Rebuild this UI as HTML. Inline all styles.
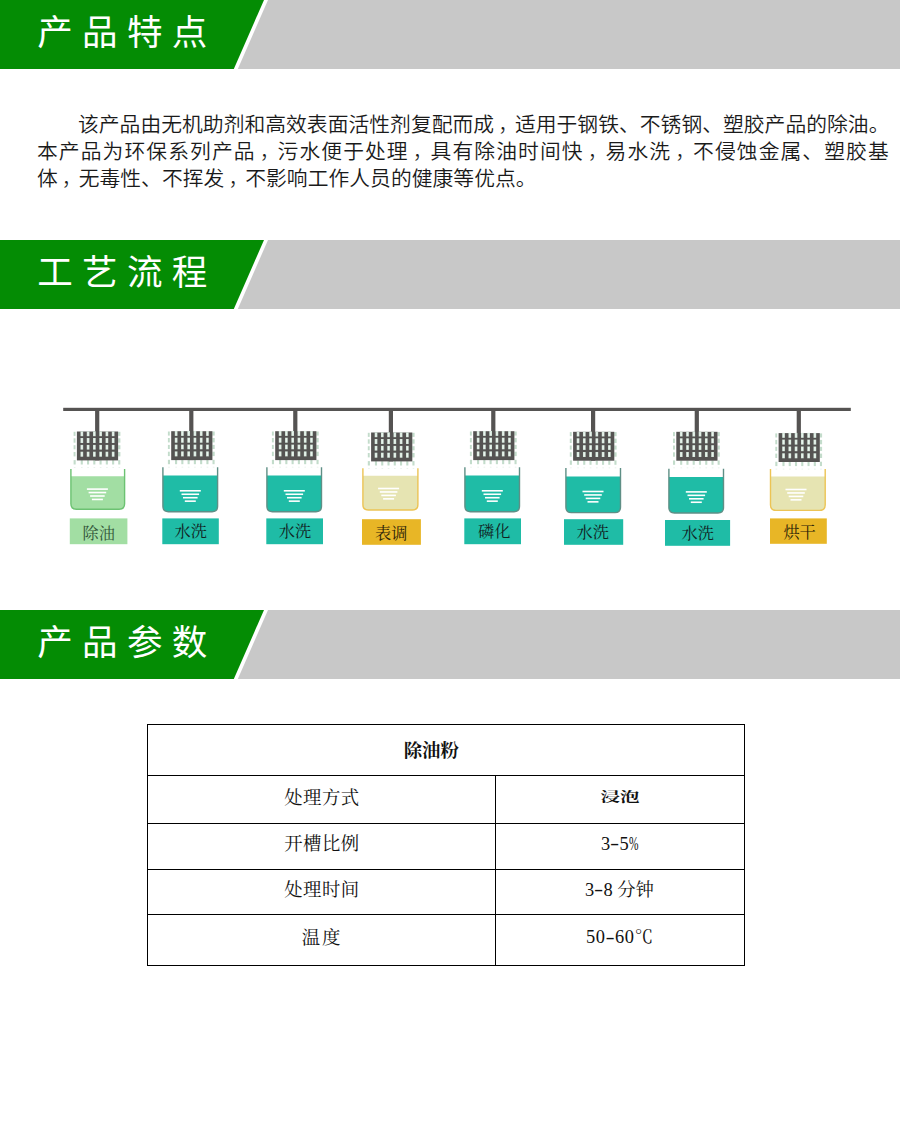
<!DOCTYPE html>
<html lang="zh-CN">
<head>
<meta charset="utf-8">
<title>除油粉 产品说明</title>
<style>
html,body{margin:0;padding:0;background:#fff;}
body{width:900px;height:1131px;position:relative;overflow:hidden;font-family:"Liberation Sans","Noto Sans CJK SC",sans-serif;}
.bar{position:absolute;left:0;width:900px;height:69px;}
.bar svg{position:absolute;left:0;top:0;display:block;}
.bar h2{position:absolute;left:37.3px;top:0;margin:0;height:69px;line-height:66px;font-size:35.5px;font-weight:400;letter-spacing:9.3px;color:#fff;white-space:nowrap;}
.p{position:absolute;left:37px;margin:0;font-weight:350;font-size:20.77px;line-height:28px;height:28px;color:#1a1a1a;white-space:nowrap;}
.p .c{position:relative;left:4px;font-weight:300;}
.flow{position:absolute;left:0;top:380px;display:block;font-family:"Liberation Serif","Noto Serif CJK SC",serif;}
.tbl{position:absolute;left:147px;top:724px;width:596px;height:240px;border:1px solid #000;}
.tbl i{position:absolute;background:#000;display:block;}
.tbl .h{left:0;width:596px;height:1px;}
.tbl .v{left:347px;top:50px;width:1px;height:190px;}
.cell{position:absolute;width:200px;height:24px;line-height:24px;text-align:center;font-family:"Liberation Serif","Noto Serif CJK SC",serif;font-size:18.4px;color:#111;white-space:nowrap;}
.cell .pc{display:inline-block;width:9.2px;transform:scaleX(0.62);transform-origin:0 50%;}
.cell .hy{display:inline-block;width:9.2px;text-align:center;transform:scaleX(1.5);position:relative;top:-0.5px;}
.cell .sq{display:inline-block;transform:scale(1.4,0.9);}
.cell.b{font-weight:700;}
</style>
</head>
<body>

<div class="bar" style="top:0">
<svg width="900" height="69" viewBox="0 0 900 69"><rect width="900" height="69" fill="#c8c8c8"/><polygon points="0,0 268,0 237.8,69 0,69" fill="#fff"/><polygon points="0,0 264,0 233.8,69 0,69" fill="#048c04"/></svg>
<h2>产品特点</h2>
</div>

<p class="p" style="top:111px;left:78px;letter-spacing:0.04px">该产品由无机助剂和高效表面活性剂复配而成<span class="c">，</span>适用于钢铁、不锈钢、塑胶产品的除油。</p>
<p class="p" style="top:138px;letter-spacing:1.1px">本产品为环保系列产品<span class="c">，</span>污水便于处理<span class="c">，</span>具有除油时间快<span class="c">，</span>易水洗<span class="c">，</span>不侵蚀金属、塑胶基</p>
<p class="p" style="top:164.5px;letter-spacing:0.05px">体<span class="c">，</span>无毒性、不挥发<span class="c">，</span>不影响工作人员的健康等优点。</p>

<div class="bar" style="top:240px">
<svg width="900" height="69" viewBox="0 0 900 69"><rect width="900" height="69" fill="#c8c8c8"/><polygon points="0,0 268,0 237.8,69 0,69" fill="#fff"/><polygon points="0,0 264,0 233.8,69 0,69" fill="#048c04"/></svg>
<h2>工艺流程</h2>
</div>

<svg class="flow" width="900" height="200" viewBox="0 380 900 200">
<rect x="63.2" y="407.8" width="787.6" height="3.2" fill="#555352" transform="scale(1)"/>
<g><rect x="73.6" y="431.8" width="1.9" height="4.1" fill="#c3dccb"/><rect x="118.1" y="431.8" width="2.3" height="4.1" fill="#c3dccb"/><rect x="73.6" y="438.3" width="1.9" height="4.4" fill="#c3dccb"/><rect x="118.1" y="438.3" width="2.3" height="4.4" fill="#c3dccb"/><rect x="73.6" y="445.2" width="1.9" height="4.1" fill="#c3dccb"/><rect x="118.1" y="445.2" width="2.3" height="4.1" fill="#c3dccb"/><rect x="73.6" y="452" width="1.9" height="4.4" fill="#c3dccb"/><rect x="118.1" y="452" width="2.3" height="4.4" fill="#c3dccb"/><rect x="73.6" y="460.1" width="2.1" height="4.4" fill="#c3dccb"/><rect x="73.9" y="467" width="1.6" height="1" fill="#c3dccb" opacity="0.35"/><rect x="80.73" y="460.1" width="2.1" height="4.4" fill="#c3dccb"/><rect x="81.03" y="467" width="1.6" height="1" fill="#c3dccb" opacity="0.35"/><rect x="87" y="460.1" width="2.1" height="4.4" fill="#c3dccb"/><rect x="87.3" y="467" width="1.6" height="1" fill="#c3dccb" opacity="0.35"/><rect x="93.27" y="460.1" width="2.1" height="4.4" fill="#c3dccb"/><rect x="93.57" y="467" width="1.6" height="1" fill="#c3dccb" opacity="0.35"/><rect x="99.53" y="460.1" width="2.1" height="4.4" fill="#c3dccb"/><rect x="99.83" y="467" width="1.6" height="1" fill="#c3dccb" opacity="0.35"/><rect x="105.8" y="460.1" width="2.1" height="4.4" fill="#c3dccb"/><rect x="106.1" y="467" width="1.6" height="1" fill="#c3dccb" opacity="0.35"/><rect x="112.07" y="460.1" width="2.1" height="4.4" fill="#c3dccb"/><rect x="112.37" y="467" width="1.6" height="1" fill="#c3dccb" opacity="0.35"/><rect x="118.2" y="460.1" width="2.1" height="4.4" fill="#c3dccb"/><rect x="118.5" y="467" width="1.6" height="1" fill="#c3dccb" opacity="0.35"/><rect x="95.1" y="409" width="4.2" height="51.4" fill="#555352"/><rect x="76.9" y="431.5" width="41.2" height="28.9" fill="#555352"/><rect x="80.5" y="431.3" width="2.67" height="4.9" fill="#d2e5d9"/><rect x="81.23" y="432" width="1.2" height="3.7" fill="#eaf4ee"/><rect x="80.5" y="438" width="2.67" height="5" fill="#d2e5d9"/><rect x="81.23" y="438.5" width="1.2" height="4" fill="#eaf4ee"/><rect x="80.5" y="444.9" width="2.67" height="4.7" fill="#d2e5d9"/><rect x="81.23" y="445.4" width="1.2" height="3.7" fill="#eaf4ee"/><rect x="80.5" y="451.7" width="2.67" height="5" fill="#d2e5d9"/><rect x="81.23" y="452.2" width="1.2" height="4" fill="#eaf4ee"/><rect x="86.77" y="431.3" width="2.67" height="4.9" fill="#d2e5d9"/><rect x="87.5" y="432" width="1.2" height="3.7" fill="#eaf4ee"/><rect x="86.77" y="438" width="2.67" height="5" fill="#d2e5d9"/><rect x="87.5" y="438.5" width="1.2" height="4" fill="#eaf4ee"/><rect x="86.77" y="444.9" width="2.67" height="4.7" fill="#d2e5d9"/><rect x="87.5" y="445.4" width="1.2" height="3.7" fill="#eaf4ee"/><rect x="86.77" y="451.7" width="2.67" height="5" fill="#d2e5d9"/><rect x="87.5" y="452.2" width="1.2" height="4" fill="#eaf4ee"/><rect x="93.03" y="431.3" width="2.67" height="4.9" fill="#d2e5d9"/><rect x="93.77" y="432" width="1.2" height="3.7" fill="#eaf4ee"/><rect x="93.03" y="438" width="2.67" height="5" fill="#d2e5d9"/><rect x="93.77" y="438.5" width="1.2" height="4" fill="#eaf4ee"/><rect x="93.03" y="444.9" width="2.67" height="4.7" fill="#d2e5d9"/><rect x="93.77" y="445.4" width="1.2" height="3.7" fill="#eaf4ee"/><rect x="93.03" y="451.7" width="2.67" height="5" fill="#d2e5d9"/><rect x="93.77" y="452.2" width="1.2" height="4" fill="#eaf4ee"/><rect x="99.3" y="431.3" width="2.67" height="4.9" fill="#d2e5d9"/><rect x="100.03" y="432" width="1.2" height="3.7" fill="#eaf4ee"/><rect x="99.3" y="438" width="2.67" height="5" fill="#d2e5d9"/><rect x="100.03" y="438.5" width="1.2" height="4" fill="#eaf4ee"/><rect x="99.3" y="444.9" width="2.67" height="4.7" fill="#d2e5d9"/><rect x="100.03" y="445.4" width="1.2" height="3.7" fill="#eaf4ee"/><rect x="99.3" y="451.7" width="2.67" height="5" fill="#d2e5d9"/><rect x="100.03" y="452.2" width="1.2" height="4" fill="#eaf4ee"/><rect x="105.57" y="431.3" width="2.67" height="4.9" fill="#d2e5d9"/><rect x="106.3" y="432" width="1.2" height="3.7" fill="#eaf4ee"/><rect x="105.57" y="438" width="2.67" height="5" fill="#d2e5d9"/><rect x="106.3" y="438.5" width="1.2" height="4" fill="#eaf4ee"/><rect x="105.57" y="444.9" width="2.67" height="4.7" fill="#d2e5d9"/><rect x="106.3" y="445.4" width="1.2" height="3.7" fill="#eaf4ee"/><rect x="105.57" y="451.7" width="2.67" height="5" fill="#d2e5d9"/><rect x="106.3" y="452.2" width="1.2" height="4" fill="#eaf4ee"/><rect x="111.83" y="431.3" width="2.67" height="4.9" fill="#d2e5d9"/><rect x="112.57" y="432" width="1.2" height="3.7" fill="#eaf4ee"/><rect x="111.83" y="438" width="2.67" height="5" fill="#d2e5d9"/><rect x="112.57" y="438.5" width="1.2" height="4" fill="#eaf4ee"/><rect x="111.83" y="444.9" width="2.67" height="4.7" fill="#d2e5d9"/><rect x="112.57" y="445.4" width="1.2" height="3.7" fill="#eaf4ee"/><rect x="111.83" y="451.7" width="2.67" height="5" fill="#d2e5d9"/><rect x="112.57" y="452.2" width="1.2" height="4" fill="#eaf4ee"/><path d="M70.9 476.2 H124.6 V503.8 Q124.6 509.3 119.1 509.3 H76.4 Q70.9 509.3 70.9 503.8 Z" fill="#a2dea3"/><path d="M70.9 468.9 V503.8 Q70.9 509.3 76.4 509.3 H119.1 Q124.6 509.3 124.6 503.8 V468.9" fill="none" stroke="#6cc272" stroke-width="1.4"/><rect x="86.9" y="488.3" width="21" height="1.6" fill="#fff"/><rect x="88.6" y="491.75" width="17.6" height="1.6" fill="#fff"/><rect x="90.1" y="495.2" width="14.6" height="1.6" fill="#fff"/><rect x="91.9" y="498.65" width="11" height="1.6" fill="#fff"/><rect x="69.8" y="518.4" width="57.6" height="25.8" fill="#a2dea3"/><text x="98.75" y="538.9" text-anchor="middle" font-size="16.2" fill="#34563a">除油</text></g>
<g><rect x="167.9" y="431.5" width="1.9" height="4.1" fill="#c3dccb"/><rect x="212.4" y="431.5" width="2.3" height="4.1" fill="#c3dccb"/><rect x="167.9" y="438" width="1.9" height="4.4" fill="#c3dccb"/><rect x="212.4" y="438" width="2.3" height="4.4" fill="#c3dccb"/><rect x="167.9" y="444.9" width="1.9" height="4.1" fill="#c3dccb"/><rect x="212.4" y="444.9" width="2.3" height="4.1" fill="#c3dccb"/><rect x="167.9" y="451.7" width="1.9" height="4.4" fill="#c3dccb"/><rect x="212.4" y="451.7" width="2.3" height="4.4" fill="#c3dccb"/><rect x="167.9" y="459.8" width="2.1" height="4.4" fill="#c3dccb"/><rect x="168.2" y="466.7" width="1.6" height="1" fill="#c3dccb" opacity="0.35"/><rect x="175.03" y="459.8" width="2.1" height="4.4" fill="#c3dccb"/><rect x="175.33" y="466.7" width="1.6" height="1" fill="#c3dccb" opacity="0.35"/><rect x="181.3" y="459.8" width="2.1" height="4.4" fill="#c3dccb"/><rect x="181.6" y="466.7" width="1.6" height="1" fill="#c3dccb" opacity="0.35"/><rect x="187.57" y="459.8" width="2.1" height="4.4" fill="#c3dccb"/><rect x="187.87" y="466.7" width="1.6" height="1" fill="#c3dccb" opacity="0.35"/><rect x="193.83" y="459.8" width="2.1" height="4.4" fill="#c3dccb"/><rect x="194.13" y="466.7" width="1.6" height="1" fill="#c3dccb" opacity="0.35"/><rect x="200.1" y="459.8" width="2.1" height="4.4" fill="#c3dccb"/><rect x="200.4" y="466.7" width="1.6" height="1" fill="#c3dccb" opacity="0.35"/><rect x="206.37" y="459.8" width="2.1" height="4.4" fill="#c3dccb"/><rect x="206.67" y="466.7" width="1.6" height="1" fill="#c3dccb" opacity="0.35"/><rect x="212.5" y="459.8" width="2.1" height="4.4" fill="#c3dccb"/><rect x="212.8" y="466.7" width="1.6" height="1" fill="#c3dccb" opacity="0.35"/><rect x="189.2" y="409" width="4.2" height="51.1" fill="#555352"/><rect x="171.2" y="431.2" width="41.2" height="28.9" fill="#555352"/><rect x="174.8" y="431" width="2.67" height="4.9" fill="#d2e5d9"/><rect x="175.53" y="431.7" width="1.2" height="3.7" fill="#eaf4ee"/><rect x="174.8" y="437.7" width="2.67" height="5" fill="#d2e5d9"/><rect x="175.53" y="438.2" width="1.2" height="4" fill="#eaf4ee"/><rect x="174.8" y="444.6" width="2.67" height="4.7" fill="#d2e5d9"/><rect x="175.53" y="445.1" width="1.2" height="3.7" fill="#eaf4ee"/><rect x="174.8" y="451.4" width="2.67" height="5" fill="#d2e5d9"/><rect x="175.53" y="451.9" width="1.2" height="4" fill="#eaf4ee"/><rect x="181.07" y="431" width="2.67" height="4.9" fill="#d2e5d9"/><rect x="181.8" y="431.7" width="1.2" height="3.7" fill="#eaf4ee"/><rect x="181.07" y="437.7" width="2.67" height="5" fill="#d2e5d9"/><rect x="181.8" y="438.2" width="1.2" height="4" fill="#eaf4ee"/><rect x="181.07" y="444.6" width="2.67" height="4.7" fill="#d2e5d9"/><rect x="181.8" y="445.1" width="1.2" height="3.7" fill="#eaf4ee"/><rect x="181.07" y="451.4" width="2.67" height="5" fill="#d2e5d9"/><rect x="181.8" y="451.9" width="1.2" height="4" fill="#eaf4ee"/><rect x="187.33" y="431" width="2.67" height="4.9" fill="#d2e5d9"/><rect x="188.07" y="431.7" width="1.2" height="3.7" fill="#eaf4ee"/><rect x="187.33" y="437.7" width="2.67" height="5" fill="#d2e5d9"/><rect x="188.07" y="438.2" width="1.2" height="4" fill="#eaf4ee"/><rect x="187.33" y="444.6" width="2.67" height="4.7" fill="#d2e5d9"/><rect x="188.07" y="445.1" width="1.2" height="3.7" fill="#eaf4ee"/><rect x="187.33" y="451.4" width="2.67" height="5" fill="#d2e5d9"/><rect x="188.07" y="451.9" width="1.2" height="4" fill="#eaf4ee"/><rect x="193.6" y="431" width="2.67" height="4.9" fill="#d2e5d9"/><rect x="194.33" y="431.7" width="1.2" height="3.7" fill="#eaf4ee"/><rect x="193.6" y="437.7" width="2.67" height="5" fill="#d2e5d9"/><rect x="194.33" y="438.2" width="1.2" height="4" fill="#eaf4ee"/><rect x="193.6" y="444.6" width="2.67" height="4.7" fill="#d2e5d9"/><rect x="194.33" y="445.1" width="1.2" height="3.7" fill="#eaf4ee"/><rect x="193.6" y="451.4" width="2.67" height="5" fill="#d2e5d9"/><rect x="194.33" y="451.9" width="1.2" height="4" fill="#eaf4ee"/><rect x="199.87" y="431" width="2.67" height="4.9" fill="#d2e5d9"/><rect x="200.6" y="431.7" width="1.2" height="3.7" fill="#eaf4ee"/><rect x="199.87" y="437.7" width="2.67" height="5" fill="#d2e5d9"/><rect x="200.6" y="438.2" width="1.2" height="4" fill="#eaf4ee"/><rect x="199.87" y="444.6" width="2.67" height="4.7" fill="#d2e5d9"/><rect x="200.6" y="445.1" width="1.2" height="3.7" fill="#eaf4ee"/><rect x="199.87" y="451.4" width="2.67" height="5" fill="#d2e5d9"/><rect x="200.6" y="451.9" width="1.2" height="4" fill="#eaf4ee"/><rect x="206.13" y="431" width="2.67" height="4.9" fill="#d2e5d9"/><rect x="206.87" y="431.7" width="1.2" height="3.7" fill="#eaf4ee"/><rect x="206.13" y="437.7" width="2.67" height="5" fill="#d2e5d9"/><rect x="206.87" y="438.2" width="1.2" height="4" fill="#eaf4ee"/><rect x="206.13" y="444.6" width="2.67" height="4.7" fill="#d2e5d9"/><rect x="206.87" y="445.1" width="1.2" height="3.7" fill="#eaf4ee"/><rect x="206.13" y="451.4" width="2.67" height="5" fill="#d2e5d9"/><rect x="206.87" y="451.9" width="1.2" height="4" fill="#eaf4ee"/><path d="M162.9 475.6 H217.6 V506.2 Q217.6 511.7 212.1 511.7 H168.4 Q162.9 511.7 162.9 506.2 Z" fill="#1fbca6"/><path d="M162.9 467.3 V506.2 Q162.9 511.7 168.4 511.7 H212.1 Q217.6 511.7 217.6 506.2 V467.3" fill="none" stroke="#5f8f86" stroke-width="1.4"/><rect x="179.8" y="490" width="21" height="1.6" fill="#fff"/><rect x="181.5" y="493.45" width="17.6" height="1.6" fill="#fff"/><rect x="183" y="496.9" width="14.6" height="1.6" fill="#fff"/><rect x="184.8" y="500.35" width="11" height="1.6" fill="#fff"/><rect x="162.3" y="518.4" width="56.5" height="25.8" fill="#1fbca6"/><text x="190.8" y="537.1" text-anchor="middle" font-size="16.2" fill="#11231f">水洗</text></g>
<g><rect x="271.9" y="431.5" width="1.9" height="4.1" fill="#c3dccb"/><rect x="316.4" y="431.5" width="2.3" height="4.1" fill="#c3dccb"/><rect x="271.9" y="438" width="1.9" height="4.4" fill="#c3dccb"/><rect x="316.4" y="438" width="2.3" height="4.4" fill="#c3dccb"/><rect x="271.9" y="444.9" width="1.9" height="4.1" fill="#c3dccb"/><rect x="316.4" y="444.9" width="2.3" height="4.1" fill="#c3dccb"/><rect x="271.9" y="451.7" width="1.9" height="4.4" fill="#c3dccb"/><rect x="316.4" y="451.7" width="2.3" height="4.4" fill="#c3dccb"/><rect x="271.9" y="459.8" width="2.1" height="4.4" fill="#c3dccb"/><rect x="272.2" y="466.7" width="1.6" height="1" fill="#c3dccb" opacity="0.35"/><rect x="279.03" y="459.8" width="2.1" height="4.4" fill="#c3dccb"/><rect x="279.33" y="466.7" width="1.6" height="1" fill="#c3dccb" opacity="0.35"/><rect x="285.3" y="459.8" width="2.1" height="4.4" fill="#c3dccb"/><rect x="285.6" y="466.7" width="1.6" height="1" fill="#c3dccb" opacity="0.35"/><rect x="291.57" y="459.8" width="2.1" height="4.4" fill="#c3dccb"/><rect x="291.87" y="466.7" width="1.6" height="1" fill="#c3dccb" opacity="0.35"/><rect x="297.83" y="459.8" width="2.1" height="4.4" fill="#c3dccb"/><rect x="298.13" y="466.7" width="1.6" height="1" fill="#c3dccb" opacity="0.35"/><rect x="304.1" y="459.8" width="2.1" height="4.4" fill="#c3dccb"/><rect x="304.4" y="466.7" width="1.6" height="1" fill="#c3dccb" opacity="0.35"/><rect x="310.37" y="459.8" width="2.1" height="4.4" fill="#c3dccb"/><rect x="310.67" y="466.7" width="1.6" height="1" fill="#c3dccb" opacity="0.35"/><rect x="316.5" y="459.8" width="2.1" height="4.4" fill="#c3dccb"/><rect x="316.8" y="466.7" width="1.6" height="1" fill="#c3dccb" opacity="0.35"/><rect x="293.2" y="409" width="4.2" height="51.1" fill="#555352"/><rect x="275.2" y="431.2" width="41.2" height="28.9" fill="#555352"/><rect x="278.8" y="431" width="2.67" height="4.9" fill="#d2e5d9"/><rect x="279.53" y="431.7" width="1.2" height="3.7" fill="#eaf4ee"/><rect x="278.8" y="437.7" width="2.67" height="5" fill="#d2e5d9"/><rect x="279.53" y="438.2" width="1.2" height="4" fill="#eaf4ee"/><rect x="278.8" y="444.6" width="2.67" height="4.7" fill="#d2e5d9"/><rect x="279.53" y="445.1" width="1.2" height="3.7" fill="#eaf4ee"/><rect x="278.8" y="451.4" width="2.67" height="5" fill="#d2e5d9"/><rect x="279.53" y="451.9" width="1.2" height="4" fill="#eaf4ee"/><rect x="285.07" y="431" width="2.67" height="4.9" fill="#d2e5d9"/><rect x="285.8" y="431.7" width="1.2" height="3.7" fill="#eaf4ee"/><rect x="285.07" y="437.7" width="2.67" height="5" fill="#d2e5d9"/><rect x="285.8" y="438.2" width="1.2" height="4" fill="#eaf4ee"/><rect x="285.07" y="444.6" width="2.67" height="4.7" fill="#d2e5d9"/><rect x="285.8" y="445.1" width="1.2" height="3.7" fill="#eaf4ee"/><rect x="285.07" y="451.4" width="2.67" height="5" fill="#d2e5d9"/><rect x="285.8" y="451.9" width="1.2" height="4" fill="#eaf4ee"/><rect x="291.33" y="431" width="2.67" height="4.9" fill="#d2e5d9"/><rect x="292.07" y="431.7" width="1.2" height="3.7" fill="#eaf4ee"/><rect x="291.33" y="437.7" width="2.67" height="5" fill="#d2e5d9"/><rect x="292.07" y="438.2" width="1.2" height="4" fill="#eaf4ee"/><rect x="291.33" y="444.6" width="2.67" height="4.7" fill="#d2e5d9"/><rect x="292.07" y="445.1" width="1.2" height="3.7" fill="#eaf4ee"/><rect x="291.33" y="451.4" width="2.67" height="5" fill="#d2e5d9"/><rect x="292.07" y="451.9" width="1.2" height="4" fill="#eaf4ee"/><rect x="297.6" y="431" width="2.67" height="4.9" fill="#d2e5d9"/><rect x="298.33" y="431.7" width="1.2" height="3.7" fill="#eaf4ee"/><rect x="297.6" y="437.7" width="2.67" height="5" fill="#d2e5d9"/><rect x="298.33" y="438.2" width="1.2" height="4" fill="#eaf4ee"/><rect x="297.6" y="444.6" width="2.67" height="4.7" fill="#d2e5d9"/><rect x="298.33" y="445.1" width="1.2" height="3.7" fill="#eaf4ee"/><rect x="297.6" y="451.4" width="2.67" height="5" fill="#d2e5d9"/><rect x="298.33" y="451.9" width="1.2" height="4" fill="#eaf4ee"/><rect x="303.87" y="431" width="2.67" height="4.9" fill="#d2e5d9"/><rect x="304.6" y="431.7" width="1.2" height="3.7" fill="#eaf4ee"/><rect x="303.87" y="437.7" width="2.67" height="5" fill="#d2e5d9"/><rect x="304.6" y="438.2" width="1.2" height="4" fill="#eaf4ee"/><rect x="303.87" y="444.6" width="2.67" height="4.7" fill="#d2e5d9"/><rect x="304.6" y="445.1" width="1.2" height="3.7" fill="#eaf4ee"/><rect x="303.87" y="451.4" width="2.67" height="5" fill="#d2e5d9"/><rect x="304.6" y="451.9" width="1.2" height="4" fill="#eaf4ee"/><rect x="310.13" y="431" width="2.67" height="4.9" fill="#d2e5d9"/><rect x="310.87" y="431.7" width="1.2" height="3.7" fill="#eaf4ee"/><rect x="310.13" y="437.7" width="2.67" height="5" fill="#d2e5d9"/><rect x="310.87" y="438.2" width="1.2" height="4" fill="#eaf4ee"/><rect x="310.13" y="444.6" width="2.67" height="4.7" fill="#d2e5d9"/><rect x="310.87" y="445.1" width="1.2" height="3.7" fill="#eaf4ee"/><rect x="310.13" y="451.4" width="2.67" height="5" fill="#d2e5d9"/><rect x="310.87" y="451.9" width="1.2" height="4" fill="#eaf4ee"/><path d="M266.9 475.6 H321.5 V506.2 Q321.5 511.7 316 511.7 H272.4 Q266.9 511.7 266.9 506.2 Z" fill="#1fbca6"/><path d="M266.9 467.3 V506.2 Q266.9 511.7 272.4 511.7 H316 Q321.5 511.7 321.5 506.2 V467.3" fill="none" stroke="#5f8f86" stroke-width="1.4"/><rect x="283.8" y="490" width="21" height="1.6" fill="#fff"/><rect x="285.5" y="493.45" width="17.6" height="1.6" fill="#fff"/><rect x="287" y="496.9" width="14.6" height="1.6" fill="#fff"/><rect x="288.8" y="500.35" width="11" height="1.6" fill="#fff"/><rect x="266.3" y="518.4" width="56.7" height="25.8" fill="#1fbca6"/><text x="294.9" y="537.1" text-anchor="middle" font-size="16.2" fill="#11231f">水洗</text></g>
<g><rect x="367.8" y="432.8" width="1.9" height="4.1" fill="#c3dccb"/><rect x="412.3" y="432.8" width="2.3" height="4.1" fill="#c3dccb"/><rect x="367.8" y="439.3" width="1.9" height="4.4" fill="#c3dccb"/><rect x="412.3" y="439.3" width="2.3" height="4.4" fill="#c3dccb"/><rect x="367.8" y="446.2" width="1.9" height="4.1" fill="#c3dccb"/><rect x="412.3" y="446.2" width="2.3" height="4.1" fill="#c3dccb"/><rect x="367.8" y="453" width="1.9" height="4.4" fill="#c3dccb"/><rect x="412.3" y="453" width="2.3" height="4.4" fill="#c3dccb"/><rect x="367.8" y="461.1" width="2.1" height="4.4" fill="#c3dccb"/><rect x="368.1" y="468" width="1.6" height="1" fill="#c3dccb" opacity="0.35"/><rect x="374.93" y="461.1" width="2.1" height="4.4" fill="#c3dccb"/><rect x="375.23" y="468" width="1.6" height="1" fill="#c3dccb" opacity="0.35"/><rect x="381.2" y="461.1" width="2.1" height="4.4" fill="#c3dccb"/><rect x="381.5" y="468" width="1.6" height="1" fill="#c3dccb" opacity="0.35"/><rect x="387.47" y="461.1" width="2.1" height="4.4" fill="#c3dccb"/><rect x="387.77" y="468" width="1.6" height="1" fill="#c3dccb" opacity="0.35"/><rect x="393.73" y="461.1" width="2.1" height="4.4" fill="#c3dccb"/><rect x="394.03" y="468" width="1.6" height="1" fill="#c3dccb" opacity="0.35"/><rect x="400" y="461.1" width="2.1" height="4.4" fill="#c3dccb"/><rect x="400.3" y="468" width="1.6" height="1" fill="#c3dccb" opacity="0.35"/><rect x="406.27" y="461.1" width="2.1" height="4.4" fill="#c3dccb"/><rect x="406.57" y="468" width="1.6" height="1" fill="#c3dccb" opacity="0.35"/><rect x="412.4" y="461.1" width="2.1" height="4.4" fill="#c3dccb"/><rect x="412.7" y="468" width="1.6" height="1" fill="#c3dccb" opacity="0.35"/><rect x="388.8" y="409" width="4.2" height="52.4" fill="#555352"/><rect x="371.1" y="432.5" width="41.2" height="28.9" fill="#555352"/><rect x="374.7" y="432.3" width="2.67" height="4.9" fill="#d2e5d9"/><rect x="375.43" y="433" width="1.2" height="3.7" fill="#eaf4ee"/><rect x="374.7" y="439" width="2.67" height="5" fill="#d2e5d9"/><rect x="375.43" y="439.5" width="1.2" height="4" fill="#eaf4ee"/><rect x="374.7" y="445.9" width="2.67" height="4.7" fill="#d2e5d9"/><rect x="375.43" y="446.4" width="1.2" height="3.7" fill="#eaf4ee"/><rect x="374.7" y="452.7" width="2.67" height="5" fill="#d2e5d9"/><rect x="375.43" y="453.2" width="1.2" height="4" fill="#eaf4ee"/><rect x="380.97" y="432.3" width="2.67" height="4.9" fill="#d2e5d9"/><rect x="381.7" y="433" width="1.2" height="3.7" fill="#eaf4ee"/><rect x="380.97" y="439" width="2.67" height="5" fill="#d2e5d9"/><rect x="381.7" y="439.5" width="1.2" height="4" fill="#eaf4ee"/><rect x="380.97" y="445.9" width="2.67" height="4.7" fill="#d2e5d9"/><rect x="381.7" y="446.4" width="1.2" height="3.7" fill="#eaf4ee"/><rect x="380.97" y="452.7" width="2.67" height="5" fill="#d2e5d9"/><rect x="381.7" y="453.2" width="1.2" height="4" fill="#eaf4ee"/><rect x="387.23" y="432.3" width="2.67" height="4.9" fill="#d2e5d9"/><rect x="387.97" y="433" width="1.2" height="3.7" fill="#eaf4ee"/><rect x="387.23" y="439" width="2.67" height="5" fill="#d2e5d9"/><rect x="387.97" y="439.5" width="1.2" height="4" fill="#eaf4ee"/><rect x="387.23" y="445.9" width="2.67" height="4.7" fill="#d2e5d9"/><rect x="387.97" y="446.4" width="1.2" height="3.7" fill="#eaf4ee"/><rect x="387.23" y="452.7" width="2.67" height="5" fill="#d2e5d9"/><rect x="387.97" y="453.2" width="1.2" height="4" fill="#eaf4ee"/><rect x="393.5" y="432.3" width="2.67" height="4.9" fill="#d2e5d9"/><rect x="394.23" y="433" width="1.2" height="3.7" fill="#eaf4ee"/><rect x="393.5" y="439" width="2.67" height="5" fill="#d2e5d9"/><rect x="394.23" y="439.5" width="1.2" height="4" fill="#eaf4ee"/><rect x="393.5" y="445.9" width="2.67" height="4.7" fill="#d2e5d9"/><rect x="394.23" y="446.4" width="1.2" height="3.7" fill="#eaf4ee"/><rect x="393.5" y="452.7" width="2.67" height="5" fill="#d2e5d9"/><rect x="394.23" y="453.2" width="1.2" height="4" fill="#eaf4ee"/><rect x="399.77" y="432.3" width="2.67" height="4.9" fill="#d2e5d9"/><rect x="400.5" y="433" width="1.2" height="3.7" fill="#eaf4ee"/><rect x="399.77" y="439" width="2.67" height="5" fill="#d2e5d9"/><rect x="400.5" y="439.5" width="1.2" height="4" fill="#eaf4ee"/><rect x="399.77" y="445.9" width="2.67" height="4.7" fill="#d2e5d9"/><rect x="400.5" y="446.4" width="1.2" height="3.7" fill="#eaf4ee"/><rect x="399.77" y="452.7" width="2.67" height="5" fill="#d2e5d9"/><rect x="400.5" y="453.2" width="1.2" height="4" fill="#eaf4ee"/><rect x="406.03" y="432.3" width="2.67" height="4.9" fill="#d2e5d9"/><rect x="406.77" y="433" width="1.2" height="3.7" fill="#eaf4ee"/><rect x="406.03" y="439" width="2.67" height="5" fill="#d2e5d9"/><rect x="406.77" y="439.5" width="1.2" height="4" fill="#eaf4ee"/><rect x="406.03" y="445.9" width="2.67" height="4.7" fill="#d2e5d9"/><rect x="406.77" y="446.4" width="1.2" height="3.7" fill="#eaf4ee"/><rect x="406.03" y="452.7" width="2.67" height="5" fill="#d2e5d9"/><rect x="406.77" y="453.2" width="1.2" height="4" fill="#eaf4ee"/><path d="M362.9 475.8 H417.9 V504.5 Q417.9 510 412.4 510 H368.4 Q362.9 510 362.9 504.5 Z" fill="#e6e4b2"/><path d="M362.9 468.3 V504.5 Q362.9 510 368.4 510 H412.4 Q417.9 510 417.9 504.5 V468.3" fill="none" stroke="#ecc455" stroke-width="1.4"/><rect x="378.1" y="487.7" width="21" height="1.6" fill="#fff"/><rect x="379.8" y="491.15" width="17.6" height="1.6" fill="#fff"/><rect x="381.3" y="494.6" width="14.6" height="1.6" fill="#fff"/><rect x="383.1" y="498.05" width="11" height="1.6" fill="#fff"/><rect x="362" y="519.2" width="58.9" height="25.6" fill="#e8b626"/><text x="391.2" y="538.9" text-anchor="middle" font-size="16.2" fill="#2e2408">表调</text></g>
<g><rect x="469.9" y="431.5" width="1.9" height="4.1" fill="#c3dccb"/><rect x="514.4" y="431.5" width="2.3" height="4.1" fill="#c3dccb"/><rect x="469.9" y="438" width="1.9" height="4.4" fill="#c3dccb"/><rect x="514.4" y="438" width="2.3" height="4.4" fill="#c3dccb"/><rect x="469.9" y="444.9" width="1.9" height="4.1" fill="#c3dccb"/><rect x="514.4" y="444.9" width="2.3" height="4.1" fill="#c3dccb"/><rect x="469.9" y="451.7" width="1.9" height="4.4" fill="#c3dccb"/><rect x="514.4" y="451.7" width="2.3" height="4.4" fill="#c3dccb"/><rect x="469.9" y="459.8" width="2.1" height="4.4" fill="#c3dccb"/><rect x="470.2" y="466.7" width="1.6" height="1" fill="#c3dccb" opacity="0.35"/><rect x="477.03" y="459.8" width="2.1" height="4.4" fill="#c3dccb"/><rect x="477.33" y="466.7" width="1.6" height="1" fill="#c3dccb" opacity="0.35"/><rect x="483.3" y="459.8" width="2.1" height="4.4" fill="#c3dccb"/><rect x="483.6" y="466.7" width="1.6" height="1" fill="#c3dccb" opacity="0.35"/><rect x="489.57" y="459.8" width="2.1" height="4.4" fill="#c3dccb"/><rect x="489.87" y="466.7" width="1.6" height="1" fill="#c3dccb" opacity="0.35"/><rect x="495.83" y="459.8" width="2.1" height="4.4" fill="#c3dccb"/><rect x="496.13" y="466.7" width="1.6" height="1" fill="#c3dccb" opacity="0.35"/><rect x="502.1" y="459.8" width="2.1" height="4.4" fill="#c3dccb"/><rect x="502.4" y="466.7" width="1.6" height="1" fill="#c3dccb" opacity="0.35"/><rect x="508.37" y="459.8" width="2.1" height="4.4" fill="#c3dccb"/><rect x="508.67" y="466.7" width="1.6" height="1" fill="#c3dccb" opacity="0.35"/><rect x="514.5" y="459.8" width="2.1" height="4.4" fill="#c3dccb"/><rect x="514.8" y="466.7" width="1.6" height="1" fill="#c3dccb" opacity="0.35"/><rect x="491.2" y="409" width="4.2" height="51.1" fill="#555352"/><rect x="473.2" y="431.2" width="41.2" height="28.9" fill="#555352"/><rect x="476.8" y="431" width="2.67" height="4.9" fill="#d2e5d9"/><rect x="477.53" y="431.7" width="1.2" height="3.7" fill="#eaf4ee"/><rect x="476.8" y="437.7" width="2.67" height="5" fill="#d2e5d9"/><rect x="477.53" y="438.2" width="1.2" height="4" fill="#eaf4ee"/><rect x="476.8" y="444.6" width="2.67" height="4.7" fill="#d2e5d9"/><rect x="477.53" y="445.1" width="1.2" height="3.7" fill="#eaf4ee"/><rect x="476.8" y="451.4" width="2.67" height="5" fill="#d2e5d9"/><rect x="477.53" y="451.9" width="1.2" height="4" fill="#eaf4ee"/><rect x="483.07" y="431" width="2.67" height="4.9" fill="#d2e5d9"/><rect x="483.8" y="431.7" width="1.2" height="3.7" fill="#eaf4ee"/><rect x="483.07" y="437.7" width="2.67" height="5" fill="#d2e5d9"/><rect x="483.8" y="438.2" width="1.2" height="4" fill="#eaf4ee"/><rect x="483.07" y="444.6" width="2.67" height="4.7" fill="#d2e5d9"/><rect x="483.8" y="445.1" width="1.2" height="3.7" fill="#eaf4ee"/><rect x="483.07" y="451.4" width="2.67" height="5" fill="#d2e5d9"/><rect x="483.8" y="451.9" width="1.2" height="4" fill="#eaf4ee"/><rect x="489.33" y="431" width="2.67" height="4.9" fill="#d2e5d9"/><rect x="490.07" y="431.7" width="1.2" height="3.7" fill="#eaf4ee"/><rect x="489.33" y="437.7" width="2.67" height="5" fill="#d2e5d9"/><rect x="490.07" y="438.2" width="1.2" height="4" fill="#eaf4ee"/><rect x="489.33" y="444.6" width="2.67" height="4.7" fill="#d2e5d9"/><rect x="490.07" y="445.1" width="1.2" height="3.7" fill="#eaf4ee"/><rect x="489.33" y="451.4" width="2.67" height="5" fill="#d2e5d9"/><rect x="490.07" y="451.9" width="1.2" height="4" fill="#eaf4ee"/><rect x="495.6" y="431" width="2.67" height="4.9" fill="#d2e5d9"/><rect x="496.33" y="431.7" width="1.2" height="3.7" fill="#eaf4ee"/><rect x="495.6" y="437.7" width="2.67" height="5" fill="#d2e5d9"/><rect x="496.33" y="438.2" width="1.2" height="4" fill="#eaf4ee"/><rect x="495.6" y="444.6" width="2.67" height="4.7" fill="#d2e5d9"/><rect x="496.33" y="445.1" width="1.2" height="3.7" fill="#eaf4ee"/><rect x="495.6" y="451.4" width="2.67" height="5" fill="#d2e5d9"/><rect x="496.33" y="451.9" width="1.2" height="4" fill="#eaf4ee"/><rect x="501.87" y="431" width="2.67" height="4.9" fill="#d2e5d9"/><rect x="502.6" y="431.7" width="1.2" height="3.7" fill="#eaf4ee"/><rect x="501.87" y="437.7" width="2.67" height="5" fill="#d2e5d9"/><rect x="502.6" y="438.2" width="1.2" height="4" fill="#eaf4ee"/><rect x="501.87" y="444.6" width="2.67" height="4.7" fill="#d2e5d9"/><rect x="502.6" y="445.1" width="1.2" height="3.7" fill="#eaf4ee"/><rect x="501.87" y="451.4" width="2.67" height="5" fill="#d2e5d9"/><rect x="502.6" y="451.9" width="1.2" height="4" fill="#eaf4ee"/><rect x="508.13" y="431" width="2.67" height="4.9" fill="#d2e5d9"/><rect x="508.87" y="431.7" width="1.2" height="3.7" fill="#eaf4ee"/><rect x="508.13" y="437.7" width="2.67" height="5" fill="#d2e5d9"/><rect x="508.87" y="438.2" width="1.2" height="4" fill="#eaf4ee"/><rect x="508.13" y="444.6" width="2.67" height="4.7" fill="#d2e5d9"/><rect x="508.87" y="445.1" width="1.2" height="3.7" fill="#eaf4ee"/><rect x="508.13" y="451.4" width="2.67" height="5" fill="#d2e5d9"/><rect x="508.87" y="451.9" width="1.2" height="4" fill="#eaf4ee"/><path d="M464.9 475.6 H519.5 V506.2 Q519.5 511.7 514 511.7 H470.4 Q464.9 511.7 464.9 506.2 Z" fill="#1fbca6"/><path d="M464.9 467.3 V506.2 Q464.9 511.7 470.4 511.7 H514 Q519.5 511.7 519.5 506.2 V467.3" fill="none" stroke="#5f8f86" stroke-width="1.4"/><rect x="481.8" y="490" width="21" height="1.6" fill="#fff"/><rect x="483.5" y="493.45" width="17.6" height="1.6" fill="#fff"/><rect x="485" y="496.9" width="14.6" height="1.6" fill="#fff"/><rect x="486.8" y="500.35" width="11" height="1.6" fill="#fff"/><rect x="464.3" y="518.4" width="56.7" height="25.8" fill="#1fbca6"/><text x="494.3" y="537.1" text-anchor="middle" font-size="16.2" fill="#11231f">磷化</text></g>
<g><rect x="569.8" y="432.1" width="1.9" height="4.1" fill="#c3dccb"/><rect x="614.3" y="432.1" width="2.3" height="4.1" fill="#c3dccb"/><rect x="569.8" y="438.6" width="1.9" height="4.4" fill="#c3dccb"/><rect x="614.3" y="438.6" width="2.3" height="4.4" fill="#c3dccb"/><rect x="569.8" y="445.5" width="1.9" height="4.1" fill="#c3dccb"/><rect x="614.3" y="445.5" width="2.3" height="4.1" fill="#c3dccb"/><rect x="569.8" y="452.3" width="1.9" height="4.4" fill="#c3dccb"/><rect x="614.3" y="452.3" width="2.3" height="4.4" fill="#c3dccb"/><rect x="569.8" y="460.4" width="2.1" height="4.4" fill="#c3dccb"/><rect x="570.1" y="467.3" width="1.6" height="1" fill="#c3dccb" opacity="0.35"/><rect x="576.93" y="460.4" width="2.1" height="4.4" fill="#c3dccb"/><rect x="577.23" y="467.3" width="1.6" height="1" fill="#c3dccb" opacity="0.35"/><rect x="583.2" y="460.4" width="2.1" height="4.4" fill="#c3dccb"/><rect x="583.5" y="467.3" width="1.6" height="1" fill="#c3dccb" opacity="0.35"/><rect x="589.47" y="460.4" width="2.1" height="4.4" fill="#c3dccb"/><rect x="589.77" y="467.3" width="1.6" height="1" fill="#c3dccb" opacity="0.35"/><rect x="595.73" y="460.4" width="2.1" height="4.4" fill="#c3dccb"/><rect x="596.03" y="467.3" width="1.6" height="1" fill="#c3dccb" opacity="0.35"/><rect x="602" y="460.4" width="2.1" height="4.4" fill="#c3dccb"/><rect x="602.3" y="467.3" width="1.6" height="1" fill="#c3dccb" opacity="0.35"/><rect x="608.27" y="460.4" width="2.1" height="4.4" fill="#c3dccb"/><rect x="608.57" y="467.3" width="1.6" height="1" fill="#c3dccb" opacity="0.35"/><rect x="614.4" y="460.4" width="2.1" height="4.4" fill="#c3dccb"/><rect x="614.7" y="467.3" width="1.6" height="1" fill="#c3dccb" opacity="0.35"/><rect x="591" y="409" width="4.2" height="51.7" fill="#555352"/><rect x="573.1" y="431.8" width="41.2" height="28.9" fill="#555352"/><rect x="576.7" y="431.6" width="2.67" height="4.9" fill="#d2e5d9"/><rect x="577.43" y="432.3" width="1.2" height="3.7" fill="#eaf4ee"/><rect x="576.7" y="438.3" width="2.67" height="5" fill="#d2e5d9"/><rect x="577.43" y="438.8" width="1.2" height="4" fill="#eaf4ee"/><rect x="576.7" y="445.2" width="2.67" height="4.7" fill="#d2e5d9"/><rect x="577.43" y="445.7" width="1.2" height="3.7" fill="#eaf4ee"/><rect x="576.7" y="452" width="2.67" height="5" fill="#d2e5d9"/><rect x="577.43" y="452.5" width="1.2" height="4" fill="#eaf4ee"/><rect x="582.97" y="431.6" width="2.67" height="4.9" fill="#d2e5d9"/><rect x="583.7" y="432.3" width="1.2" height="3.7" fill="#eaf4ee"/><rect x="582.97" y="438.3" width="2.67" height="5" fill="#d2e5d9"/><rect x="583.7" y="438.8" width="1.2" height="4" fill="#eaf4ee"/><rect x="582.97" y="445.2" width="2.67" height="4.7" fill="#d2e5d9"/><rect x="583.7" y="445.7" width="1.2" height="3.7" fill="#eaf4ee"/><rect x="582.97" y="452" width="2.67" height="5" fill="#d2e5d9"/><rect x="583.7" y="452.5" width="1.2" height="4" fill="#eaf4ee"/><rect x="589.23" y="431.6" width="2.67" height="4.9" fill="#d2e5d9"/><rect x="589.97" y="432.3" width="1.2" height="3.7" fill="#eaf4ee"/><rect x="589.23" y="438.3" width="2.67" height="5" fill="#d2e5d9"/><rect x="589.97" y="438.8" width="1.2" height="4" fill="#eaf4ee"/><rect x="589.23" y="445.2" width="2.67" height="4.7" fill="#d2e5d9"/><rect x="589.97" y="445.7" width="1.2" height="3.7" fill="#eaf4ee"/><rect x="589.23" y="452" width="2.67" height="5" fill="#d2e5d9"/><rect x="589.97" y="452.5" width="1.2" height="4" fill="#eaf4ee"/><rect x="595.5" y="431.6" width="2.67" height="4.9" fill="#d2e5d9"/><rect x="596.23" y="432.3" width="1.2" height="3.7" fill="#eaf4ee"/><rect x="595.5" y="438.3" width="2.67" height="5" fill="#d2e5d9"/><rect x="596.23" y="438.8" width="1.2" height="4" fill="#eaf4ee"/><rect x="595.5" y="445.2" width="2.67" height="4.7" fill="#d2e5d9"/><rect x="596.23" y="445.7" width="1.2" height="3.7" fill="#eaf4ee"/><rect x="595.5" y="452" width="2.67" height="5" fill="#d2e5d9"/><rect x="596.23" y="452.5" width="1.2" height="4" fill="#eaf4ee"/><rect x="601.77" y="431.6" width="2.67" height="4.9" fill="#d2e5d9"/><rect x="602.5" y="432.3" width="1.2" height="3.7" fill="#eaf4ee"/><rect x="601.77" y="438.3" width="2.67" height="5" fill="#d2e5d9"/><rect x="602.5" y="438.8" width="1.2" height="4" fill="#eaf4ee"/><rect x="601.77" y="445.2" width="2.67" height="4.7" fill="#d2e5d9"/><rect x="602.5" y="445.7" width="1.2" height="3.7" fill="#eaf4ee"/><rect x="601.77" y="452" width="2.67" height="5" fill="#d2e5d9"/><rect x="602.5" y="452.5" width="1.2" height="4" fill="#eaf4ee"/><rect x="608.03" y="431.6" width="2.67" height="4.9" fill="#d2e5d9"/><rect x="608.77" y="432.3" width="1.2" height="3.7" fill="#eaf4ee"/><rect x="608.03" y="438.3" width="2.67" height="5" fill="#d2e5d9"/><rect x="608.77" y="438.8" width="1.2" height="4" fill="#eaf4ee"/><rect x="608.03" y="445.2" width="2.67" height="4.7" fill="#d2e5d9"/><rect x="608.77" y="445.7" width="1.2" height="3.7" fill="#eaf4ee"/><rect x="608.03" y="452" width="2.67" height="5" fill="#d2e5d9"/><rect x="608.77" y="452.5" width="1.2" height="4" fill="#eaf4ee"/><path d="M565.9 476.5 H620.5 V507.1 Q620.5 512.6 615 512.6 H571.4 Q565.9 512.6 565.9 507.1 Z" fill="#1fbca6"/><path d="M565.9 468 V507.1 Q565.9 512.6 571.4 512.6 H615 Q620.5 512.6 620.5 507.1 V468" fill="none" stroke="#5f8f86" stroke-width="1.4"/><rect x="582.5" y="490.7" width="21" height="1.6" fill="#fff"/><rect x="584.2" y="494.15" width="17.6" height="1.6" fill="#fff"/><rect x="585.7" y="497.6" width="14.6" height="1.6" fill="#fff"/><rect x="587.5" y="501.05" width="11" height="1.6" fill="#fff"/><rect x="564" y="519.2" width="59.2" height="25.6" fill="#1fbca6"/><text x="592.8" y="538" text-anchor="middle" font-size="16.2" fill="#11231f">水洗</text></g>
<g><rect x="673" y="432.1" width="1.9" height="4.1" fill="#c3dccb"/><rect x="717.5" y="432.1" width="2.3" height="4.1" fill="#c3dccb"/><rect x="673" y="438.6" width="1.9" height="4.4" fill="#c3dccb"/><rect x="717.5" y="438.6" width="2.3" height="4.4" fill="#c3dccb"/><rect x="673" y="445.5" width="1.9" height="4.1" fill="#c3dccb"/><rect x="717.5" y="445.5" width="2.3" height="4.1" fill="#c3dccb"/><rect x="673" y="452.3" width="1.9" height="4.4" fill="#c3dccb"/><rect x="717.5" y="452.3" width="2.3" height="4.4" fill="#c3dccb"/><rect x="673" y="460.4" width="2.1" height="4.4" fill="#c3dccb"/><rect x="673.3" y="467.3" width="1.6" height="1" fill="#c3dccb" opacity="0.35"/><rect x="680.13" y="460.4" width="2.1" height="4.4" fill="#c3dccb"/><rect x="680.43" y="467.3" width="1.6" height="1" fill="#c3dccb" opacity="0.35"/><rect x="686.4" y="460.4" width="2.1" height="4.4" fill="#c3dccb"/><rect x="686.7" y="467.3" width="1.6" height="1" fill="#c3dccb" opacity="0.35"/><rect x="692.67" y="460.4" width="2.1" height="4.4" fill="#c3dccb"/><rect x="692.97" y="467.3" width="1.6" height="1" fill="#c3dccb" opacity="0.35"/><rect x="698.93" y="460.4" width="2.1" height="4.4" fill="#c3dccb"/><rect x="699.23" y="467.3" width="1.6" height="1" fill="#c3dccb" opacity="0.35"/><rect x="705.2" y="460.4" width="2.1" height="4.4" fill="#c3dccb"/><rect x="705.5" y="467.3" width="1.6" height="1" fill="#c3dccb" opacity="0.35"/><rect x="711.47" y="460.4" width="2.1" height="4.4" fill="#c3dccb"/><rect x="711.77" y="467.3" width="1.6" height="1" fill="#c3dccb" opacity="0.35"/><rect x="717.6" y="460.4" width="2.1" height="4.4" fill="#c3dccb"/><rect x="717.9" y="467.3" width="1.6" height="1" fill="#c3dccb" opacity="0.35"/><rect x="694.7" y="409" width="4.2" height="51.7" fill="#555352"/><rect x="676.3" y="431.8" width="41.2" height="28.9" fill="#555352"/><rect x="679.9" y="431.6" width="2.67" height="4.9" fill="#d2e5d9"/><rect x="680.63" y="432.3" width="1.2" height="3.7" fill="#eaf4ee"/><rect x="679.9" y="438.3" width="2.67" height="5" fill="#d2e5d9"/><rect x="680.63" y="438.8" width="1.2" height="4" fill="#eaf4ee"/><rect x="679.9" y="445.2" width="2.67" height="4.7" fill="#d2e5d9"/><rect x="680.63" y="445.7" width="1.2" height="3.7" fill="#eaf4ee"/><rect x="679.9" y="452" width="2.67" height="5" fill="#d2e5d9"/><rect x="680.63" y="452.5" width="1.2" height="4" fill="#eaf4ee"/><rect x="686.17" y="431.6" width="2.67" height="4.9" fill="#d2e5d9"/><rect x="686.9" y="432.3" width="1.2" height="3.7" fill="#eaf4ee"/><rect x="686.17" y="438.3" width="2.67" height="5" fill="#d2e5d9"/><rect x="686.9" y="438.8" width="1.2" height="4" fill="#eaf4ee"/><rect x="686.17" y="445.2" width="2.67" height="4.7" fill="#d2e5d9"/><rect x="686.9" y="445.7" width="1.2" height="3.7" fill="#eaf4ee"/><rect x="686.17" y="452" width="2.67" height="5" fill="#d2e5d9"/><rect x="686.9" y="452.5" width="1.2" height="4" fill="#eaf4ee"/><rect x="692.43" y="431.6" width="2.67" height="4.9" fill="#d2e5d9"/><rect x="693.17" y="432.3" width="1.2" height="3.7" fill="#eaf4ee"/><rect x="692.43" y="438.3" width="2.67" height="5" fill="#d2e5d9"/><rect x="693.17" y="438.8" width="1.2" height="4" fill="#eaf4ee"/><rect x="692.43" y="445.2" width="2.67" height="4.7" fill="#d2e5d9"/><rect x="693.17" y="445.7" width="1.2" height="3.7" fill="#eaf4ee"/><rect x="692.43" y="452" width="2.67" height="5" fill="#d2e5d9"/><rect x="693.17" y="452.5" width="1.2" height="4" fill="#eaf4ee"/><rect x="698.7" y="431.6" width="2.67" height="4.9" fill="#d2e5d9"/><rect x="699.43" y="432.3" width="1.2" height="3.7" fill="#eaf4ee"/><rect x="698.7" y="438.3" width="2.67" height="5" fill="#d2e5d9"/><rect x="699.43" y="438.8" width="1.2" height="4" fill="#eaf4ee"/><rect x="698.7" y="445.2" width="2.67" height="4.7" fill="#d2e5d9"/><rect x="699.43" y="445.7" width="1.2" height="3.7" fill="#eaf4ee"/><rect x="698.7" y="452" width="2.67" height="5" fill="#d2e5d9"/><rect x="699.43" y="452.5" width="1.2" height="4" fill="#eaf4ee"/><rect x="704.97" y="431.6" width="2.67" height="4.9" fill="#d2e5d9"/><rect x="705.7" y="432.3" width="1.2" height="3.7" fill="#eaf4ee"/><rect x="704.97" y="438.3" width="2.67" height="5" fill="#d2e5d9"/><rect x="705.7" y="438.8" width="1.2" height="4" fill="#eaf4ee"/><rect x="704.97" y="445.2" width="2.67" height="4.7" fill="#d2e5d9"/><rect x="705.7" y="445.7" width="1.2" height="3.7" fill="#eaf4ee"/><rect x="704.97" y="452" width="2.67" height="5" fill="#d2e5d9"/><rect x="705.7" y="452.5" width="1.2" height="4" fill="#eaf4ee"/><rect x="711.23" y="431.6" width="2.67" height="4.9" fill="#d2e5d9"/><rect x="711.97" y="432.3" width="1.2" height="3.7" fill="#eaf4ee"/><rect x="711.23" y="438.3" width="2.67" height="5" fill="#d2e5d9"/><rect x="711.97" y="438.8" width="1.2" height="4" fill="#eaf4ee"/><rect x="711.23" y="445.2" width="2.67" height="4.7" fill="#d2e5d9"/><rect x="711.97" y="445.7" width="1.2" height="3.7" fill="#eaf4ee"/><rect x="711.23" y="452" width="2.67" height="5" fill="#d2e5d9"/><rect x="711.97" y="452.5" width="1.2" height="4" fill="#eaf4ee"/><path d="M668.9 476.9 H723.5 V507.5 Q723.5 513 718 513 H674.4 Q668.9 513 668.9 507.5 Z" fill="#1fbca6"/><path d="M668.9 468.7 V507.5 Q668.9 513 674.4 513 H718 Q723.5 513 723.5 507.5 V468.7" fill="none" stroke="#5f8f86" stroke-width="1.4"/><rect x="685.8" y="491.1" width="21" height="1.6" fill="#fff"/><rect x="687.5" y="494.55" width="17.6" height="1.6" fill="#fff"/><rect x="689" y="498" width="14.6" height="1.6" fill="#fff"/><rect x="690.8" y="501.45" width="11" height="1.6" fill="#fff"/><rect x="665" y="520" width="65.1" height="25.8" fill="#1fbca6"/><text x="697.8" y="538.9" text-anchor="middle" font-size="16.2" fill="#11231f">水洗</text></g>
<g><rect x="775.3" y="433.4" width="1.9" height="4.1" fill="#c3dccb"/><rect x="819.8" y="433.4" width="2.3" height="4.1" fill="#c3dccb"/><rect x="775.3" y="439.9" width="1.9" height="4.4" fill="#c3dccb"/><rect x="819.8" y="439.9" width="2.3" height="4.4" fill="#c3dccb"/><rect x="775.3" y="446.8" width="1.9" height="4.1" fill="#c3dccb"/><rect x="819.8" y="446.8" width="2.3" height="4.1" fill="#c3dccb"/><rect x="775.3" y="453.6" width="1.9" height="4.4" fill="#c3dccb"/><rect x="819.8" y="453.6" width="2.3" height="4.4" fill="#c3dccb"/><rect x="775.3" y="461.7" width="2.1" height="4.4" fill="#c3dccb"/><rect x="775.6" y="468.6" width="1.6" height="1" fill="#c3dccb" opacity="0.35"/><rect x="782.43" y="461.7" width="2.1" height="4.4" fill="#c3dccb"/><rect x="782.73" y="468.6" width="1.6" height="1" fill="#c3dccb" opacity="0.35"/><rect x="788.7" y="461.7" width="2.1" height="4.4" fill="#c3dccb"/><rect x="789" y="468.6" width="1.6" height="1" fill="#c3dccb" opacity="0.35"/><rect x="794.97" y="461.7" width="2.1" height="4.4" fill="#c3dccb"/><rect x="795.27" y="468.6" width="1.6" height="1" fill="#c3dccb" opacity="0.35"/><rect x="801.23" y="461.7" width="2.1" height="4.4" fill="#c3dccb"/><rect x="801.53" y="468.6" width="1.6" height="1" fill="#c3dccb" opacity="0.35"/><rect x="807.5" y="461.7" width="2.1" height="4.4" fill="#c3dccb"/><rect x="807.8" y="468.6" width="1.6" height="1" fill="#c3dccb" opacity="0.35"/><rect x="813.77" y="461.7" width="2.1" height="4.4" fill="#c3dccb"/><rect x="814.07" y="468.6" width="1.6" height="1" fill="#c3dccb" opacity="0.35"/><rect x="819.9" y="461.7" width="2.1" height="4.4" fill="#c3dccb"/><rect x="820.2" y="468.6" width="1.6" height="1" fill="#c3dccb" opacity="0.35"/><rect x="796.7" y="409" width="4.2" height="53" fill="#555352"/><rect x="778.6" y="433.1" width="41.2" height="28.9" fill="#555352"/><rect x="782.2" y="432.9" width="2.67" height="4.9" fill="#d2e5d9"/><rect x="782.93" y="433.6" width="1.2" height="3.7" fill="#eaf4ee"/><rect x="782.2" y="439.6" width="2.67" height="5" fill="#d2e5d9"/><rect x="782.93" y="440.1" width="1.2" height="4" fill="#eaf4ee"/><rect x="782.2" y="446.5" width="2.67" height="4.7" fill="#d2e5d9"/><rect x="782.93" y="447" width="1.2" height="3.7" fill="#eaf4ee"/><rect x="782.2" y="453.3" width="2.67" height="5" fill="#d2e5d9"/><rect x="782.93" y="453.8" width="1.2" height="4" fill="#eaf4ee"/><rect x="788.47" y="432.9" width="2.67" height="4.9" fill="#d2e5d9"/><rect x="789.2" y="433.6" width="1.2" height="3.7" fill="#eaf4ee"/><rect x="788.47" y="439.6" width="2.67" height="5" fill="#d2e5d9"/><rect x="789.2" y="440.1" width="1.2" height="4" fill="#eaf4ee"/><rect x="788.47" y="446.5" width="2.67" height="4.7" fill="#d2e5d9"/><rect x="789.2" y="447" width="1.2" height="3.7" fill="#eaf4ee"/><rect x="788.47" y="453.3" width="2.67" height="5" fill="#d2e5d9"/><rect x="789.2" y="453.8" width="1.2" height="4" fill="#eaf4ee"/><rect x="794.73" y="432.9" width="2.67" height="4.9" fill="#d2e5d9"/><rect x="795.47" y="433.6" width="1.2" height="3.7" fill="#eaf4ee"/><rect x="794.73" y="439.6" width="2.67" height="5" fill="#d2e5d9"/><rect x="795.47" y="440.1" width="1.2" height="4" fill="#eaf4ee"/><rect x="794.73" y="446.5" width="2.67" height="4.7" fill="#d2e5d9"/><rect x="795.47" y="447" width="1.2" height="3.7" fill="#eaf4ee"/><rect x="794.73" y="453.3" width="2.67" height="5" fill="#d2e5d9"/><rect x="795.47" y="453.8" width="1.2" height="4" fill="#eaf4ee"/><rect x="801" y="432.9" width="2.67" height="4.9" fill="#d2e5d9"/><rect x="801.73" y="433.6" width="1.2" height="3.7" fill="#eaf4ee"/><rect x="801" y="439.6" width="2.67" height="5" fill="#d2e5d9"/><rect x="801.73" y="440.1" width="1.2" height="4" fill="#eaf4ee"/><rect x="801" y="446.5" width="2.67" height="4.7" fill="#d2e5d9"/><rect x="801.73" y="447" width="1.2" height="3.7" fill="#eaf4ee"/><rect x="801" y="453.3" width="2.67" height="5" fill="#d2e5d9"/><rect x="801.73" y="453.8" width="1.2" height="4" fill="#eaf4ee"/><rect x="807.27" y="432.9" width="2.67" height="4.9" fill="#d2e5d9"/><rect x="808" y="433.6" width="1.2" height="3.7" fill="#eaf4ee"/><rect x="807.27" y="439.6" width="2.67" height="5" fill="#d2e5d9"/><rect x="808" y="440.1" width="1.2" height="4" fill="#eaf4ee"/><rect x="807.27" y="446.5" width="2.67" height="4.7" fill="#d2e5d9"/><rect x="808" y="447" width="1.2" height="3.7" fill="#eaf4ee"/><rect x="807.27" y="453.3" width="2.67" height="5" fill="#d2e5d9"/><rect x="808" y="453.8" width="1.2" height="4" fill="#eaf4ee"/><rect x="813.53" y="432.9" width="2.67" height="4.9" fill="#d2e5d9"/><rect x="814.27" y="433.6" width="1.2" height="3.7" fill="#eaf4ee"/><rect x="813.53" y="439.6" width="2.67" height="5" fill="#d2e5d9"/><rect x="814.27" y="440.1" width="1.2" height="4" fill="#eaf4ee"/><rect x="813.53" y="446.5" width="2.67" height="4.7" fill="#d2e5d9"/><rect x="814.27" y="447" width="1.2" height="3.7" fill="#eaf4ee"/><rect x="813.53" y="453.3" width="2.67" height="5" fill="#d2e5d9"/><rect x="814.27" y="453.8" width="1.2" height="4" fill="#eaf4ee"/><path d="M770.5 476.5 H825.2 V504.9 Q825.2 510.4 819.7 510.4 H776 Q770.5 510.4 770.5 504.9 Z" fill="#e6e4b2"/><path d="M770.5 468.9 V504.9 Q770.5 510.4 776 510.4 H819.7 Q825.2 510.4 825.2 504.9 V468.9" fill="none" stroke="#ecc455" stroke-width="1.4"/><rect x="785.5" y="488.7" width="21" height="1.6" fill="#fff"/><rect x="787.2" y="492.15" width="17.6" height="1.6" fill="#fff"/><rect x="788.7" y="495.6" width="14.6" height="1.6" fill="#fff"/><rect x="790.5" y="499.05" width="11" height="1.6" fill="#fff"/><rect x="770" y="518.4" width="56.8" height="25.4" fill="#e8b626"/><text x="799.6" y="537.8" text-anchor="middle" font-size="16.2" fill="#2e2408">烘干</text></g>
</svg>

<div class="bar" style="top:610px">
<svg width="900" height="69" viewBox="0 0 900 69"><rect width="900" height="69" fill="#c8c8c8"/><polygon points="0,0 268,0 237.8,69 0,69" fill="#fff"/><polygon points="0,0 264,0 233.8,69 0,69" fill="#048c04"/></svg>
<h2>产品参数</h2>
</div>

<div class="tbl">
<i class="h" style="top:50px"></i><i class="h" style="top:98px"></i><i class="h" style="top:144px"></i><i class="h" style="top:189px"></i><i class="v"></i>
</div>
<div class="cell b" style="left:331.3px;top:739px">除油粉</div>
<div class="cell" style="left:221.9px;top:785.5px;letter-spacing:0.4px">处理方式</div>
<div class="cell" style="left:221.9px;top:832px;letter-spacing:0.4px">开槽比例</div>
<div class="cell" style="left:221.9px;top:878px;letter-spacing:0.4px">处理时间</div>
<div class="cell" style="left:222.1px;top:926px;letter-spacing:2px">温度</div>
<div class="cell b" style="left:519.5px;top:785px;font-size:14px"><span class="sq">浸泡</span></div>
<div class="cell" style="left:519.5px;top:831.5px">3<span class="hy">-</span>5<span class="pc">%</span></div>
<div class="cell" style="left:519.5px;top:877.5px">3<span class="hy">-</span>8 分钟</div>
<div class="cell" style="left:519.5px;top:925px"><span style="letter-spacing:0.7px">50<span class="hy">-</span>60</span>℃</div>

</body>
</html>
